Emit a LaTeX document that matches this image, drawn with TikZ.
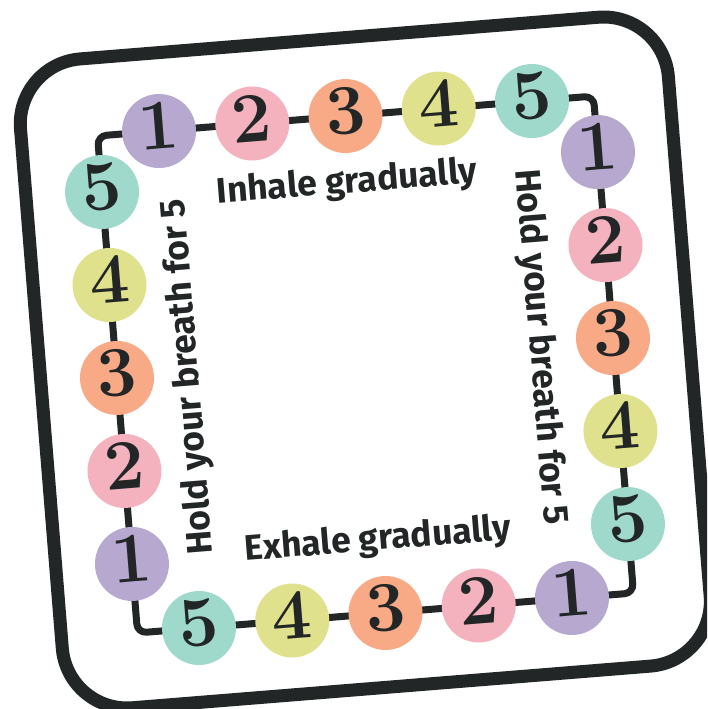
\documentclass[tikz,border=0pt]{standalone}
\usepackage{fontspec}
\newfontfamily\labelfont{Fira Sans}
\definecolor{ink}{HTML}{222626}
\definecolor{cpurple}{HTML}{B6A8CF}
\definecolor{cpink}{HTML}{F3B2BE}
\definecolor{corange}{HTML}{F7AA85}
\definecolor{cyellow}{HTML}{E0E18C}
\definecolor{cteal}{HTML}{9ED9CC}
\tikzset{
  num/.style={circle, minimum size=74pt, inner sep=0pt, text=ink,
    font=\fontsize{71}{71}\selectfont\bfseries, text height=46pt, text depth=10pt},
  lbl/.style={text=ink, font=\labelfont\bfseries\fontsize{35.5}{35.5}\selectfont, inner sep=0pt, anchor=base},
  frame/.style={draw=ink, line width=13pt, rounded corners=65pt},
  track/.style={draw=ink, line width=7pt, rounded corners=9pt}
}
\begin{document}
\begin{tikzpicture}[x=1pt,y=1pt]
\useasboundingbox (0,0) rectangle (707,-709);
\clip (0,0) rectangle (707,-709);
\fill[white] (0,0) rectangle (707,-709);
\begin{scope}[shift={(365.5,-364.5)}, rotate=4.6, transform shape]
  \path[frame] (-325,-323.5) rectangle (325,327.5);
  \coordinate (c1) at (-248.8,249.3);
  \coordinate (c2) at (248.8,249.3);
  \coordinate (c3) at (248.8,-249.3);
  \coordinate (c4) at (-248.8,-249.3);
  \path[track] (c1) -- (c2) -- (c3) -- (c4) -- cycle;
  % top row
  \node[num, fill=cpurple] (t1) at (-187.1,249.3) {1};
  \node[num, fill=cpink]   (t2) at (-93.55,249.3) {2};
  \node[num, fill=corange] (t3) at (0,249.3) {3};
  \node[num, fill=cyellow] (t4) at (93.55,249.3) {4};
  \node[num, fill=cteal]   (t5) at (187.1,249.3) {5};
  % right column
  \node[num, fill=cpurple] (r1) at (248.8,193.1) {1};
  \node[num, fill=cpink]   (r2) at (248.8,99.8) {2};
  \node[num, fill=corange] (r3) at (248.8,6.5) {3};
  \node[num, fill=cyellow] (r4) at (248.8,-86.8) {4};
  \node[num, fill=cteal]   (r5) at (248.8,-180.1) {5};
  % bottom row
  \node[num, fill=cpurple] (b1) at (187.1,-249.3) {1};
  \node[num, fill=cpink]   (b2) at (93.55,-249.3) {2};
  \node[num, fill=corange] (b3) at (0,-249.3) {3};
  \node[num, fill=cyellow] (b4) at (-93.55,-249.3) {4};
  \node[num, fill=cteal]   (b5) at (-187.1,-249.3) {5};
  % left column
  \node[num, fill=cpurple] (l1) at (-248.8,-180.1) {1};
  \node[num, fill=cpink]   (l2) at (-248.8,-86.8) {2};
  \node[num, fill=corange] (l3) at (-248.8,6.5) {3};
  \node[num, fill=cyellow] (l4) at (-248.8,99.8) {4};
  \node[num, fill=cteal]   (l5) at (-248.8,193.1) {5};
  % labels
  \node[lbl] (inhale) at (-4,172.5) {Inhale gradually};
  \node[lbl] (exhale) at (-2,-186) {Exhale gradually};
  \node[lbl, rotate=90] (holdl) at (-167.3,2) {Hold your breath for 5};
  \node[lbl, rotate=-90] (holdr) at (165.6,3.5) {Hold your breath for 5};
\end{scope}
\end{tikzpicture}
\end{document}
